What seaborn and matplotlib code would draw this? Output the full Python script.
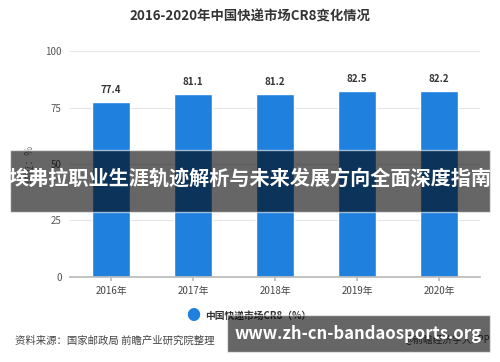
import matplotlib
matplotlib.use("Agg")
import matplotlib.pyplot as plt
import seaborn as sns
from matplotlib.patches import Rectangle

years = ['2016年', '2017年', '2018年', '2019年', '2020年']
cr8 = [77.4, 81.1, 81.2, 82.5, 82.2]
yticks = [0, 25, 50, 75, 100]

sns.set_theme(style="white")
plt.rcParams['font.family'] = ['Noto Sans CJK SC', 'DejaVu Sans']

fig = plt.figure(figsize=(5, 3.62), dpi=100)
ax = fig.add_axes([0.14, 0.235, 0.82, 0.624])

sns.barplot(x=years, y=cr8, color='#2080DE', width=0.46, saturation=1, ax=ax)
for i, v in enumerate(cr8):
    ax.text(i, v + 3, f'{v}', ha='center', va='bottom', fontsize=7, color='#333333', fontweight='bold')

ax.set_ylim(0, 100)
ax.set_yticks(yticks)
ax.yaxis.grid(True, color='#e6e6e6', lw=0.8)
ax.set_axisbelow(True)
sns.despine(ax=ax, left=True)
ax.spines['bottom'].set_color('#bbbbbb')
ax.tick_params(axis='y', length=0, labelsize=7, colors='#555555', pad=6)
ax.tick_params(axis='x', length=3, color='#bbbbbb', labelsize=7, colors='#444444', bottom=True)
ax.set_ylabel('单位：%', fontsize=7, color='#777777', labelpad=8)

fig.text(0.5, 0.953, '2016-2020年中国快递市场CR8变化情况', ha='center', va='center',
         fontsize=9.6, fontweight='bold', color='#333333')

# legend
fig.text(0.386, 0.127, '●', ha='center', va='center', fontsize=10, color='#2080DE')
fig.text(0.41, 0.127, '中国快递市场CR8（%）', ha='left', va='center', fontsize=7,
         fontweight='bold', color='#333333')

fig.text(0.03, 0.06, '资料来源：国家邮政局 前瞻产业研究院整理', ha='left', va='center',
         fontsize=7.5, color='#444444')
fig.text(0.98, 0.06, '@前瞻经济学人APP', ha='right', va='center', fontsize=7, color='#444444')

# overlay banners
fig.patches.append(Rectangle((0.02, 1 - 212 / 362), 0.96, 62 / 362, transform=fig.transFigure,
                             facecolor='black', alpha=0.6, zorder=10))
fig.text(0.5, 1 - 178 / 362, '埃弗拉职业生涯轨迹解析与未来发展方向全面深度指南', ha='center', va='center',
         fontsize=14.5, fontweight='bold', color='white', zorder=11)

fig.patches.append(Rectangle((227 / 500, 1 - 352 / 362), 263 / 500, 37 / 362, transform=fig.transFigure,
                             facecolor='black', alpha=0.6, zorder=10))
fig.text(358 / 500, 1 - 334 / 362, 'www.zh-cn-bandaosports.org', ha='center', va='center',
         fontsize=12, fontweight='bold', color='white', zorder=11)

fig.savefig('out.png', dpi=100)
